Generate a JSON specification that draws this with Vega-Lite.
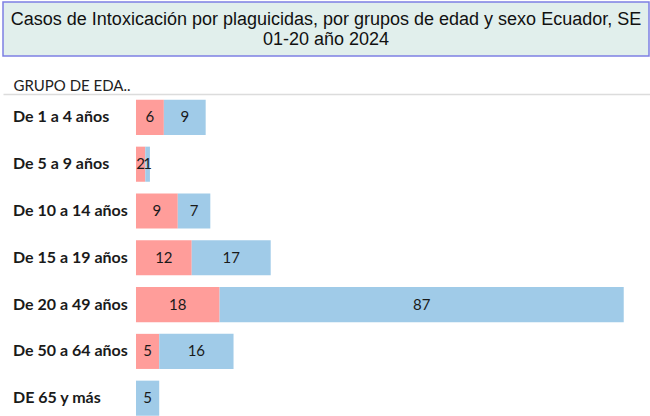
{
  "$schema": "https://vega.github.io/schema/vega-lite/v6.json",
  "background": "white",
  "padding": {"left": 2, "top": 1, "right": 0, "bottom": 0},
  "spacing": 21,
  "config": {"view": {"stroke": null}},
  "vconcat": [
    {
      "width": 646,
      "height": 54,
      "view": {"fill": "#e1efec", "stroke": "#7d80e3", "strokeWidth": 1.5},
      "data": {"values": [{"t": ["Casos de Intoxicación por plaguicidas, por grupos de edad y sexo Ecuador, SE", "01-20  año 2024"]}]},
      "mark": {"type": "text", "font": "Liberation Sans", "fontSize": 18, "lineHeight": 20, "color": "#111", "align": "center", "baseline": "middle", "dy": -9.5},
      "encoding": {"text": {"field": "t"}}
    },
    {
      "width": 648,
      "height": {"step": 46.8},
      "data": {"values": [
        {"grupo": "De 1 a 4 años", "sexo": "Mujer", "n": 6},
        {"grupo": "De 1 a 4 años", "sexo": "Hombre", "n": 9},
        {"grupo": "De 5 a 9 años", "sexo": "Mujer", "n": 2},
        {"grupo": "De 5 a 9 años", "sexo": "Hombre", "n": 1},
        {"grupo": "De 10 a 14 años", "sexo": "Mujer", "n": 9},
        {"grupo": "De 10 a 14 años", "sexo": "Hombre", "n": 7},
        {"grupo": "De 15 a 19 años", "sexo": "Mujer", "n": 12},
        {"grupo": "De 15 a 19 años", "sexo": "Hombre", "n": 17},
        {"grupo": "De 20 a 49 años", "sexo": "Mujer", "n": 18},
        {"grupo": "De 20 a 49 años", "sexo": "Hombre", "n": 87},
        {"grupo": "De 50 a 64 años", "sexo": "Mujer", "n": 5},
        {"grupo": "De 50 a 64 años", "sexo": "Hombre", "n": 16},
        {"grupo": "DE 65 y más", "sexo": "Hombre", "n": 5}
      ]},
      "encoding": {
        "y": {
          "field": "grupo",
          "type": "nominal",
          "sort": ["De 1 a 4 años", "De 5 a 9 años", "De 10 a 14 años", "De 15 a 19 años", "De 20 a 49 años", "De 50 a 64 años", "DE 65 y más"],
          "scale": {"paddingInner": 0.25, "paddingOuter": 0.125},
          "axis": null
        }
      },
      "layer": [
        {
          "mark": {"type": "bar"},
          "encoding": {
            "x": {
              "field": "n",
              "type": "quantitative",
              "stack": "zero",
              "scale": {"domain": [-28.63, 110.87], "nice": false, "zero": false},
              "axis": {
                "orient": "top",
                "domain": true,
                "domainColor": "#dcdcdc",
                "domainWidth": 1.5,
                "ticks": false,
                "labels": false,
                "grid": false,
                "title": "GRUPO DE EDA..",
                "titleX": 10,
                "titleY": -4,
                "titleAlign": "left",
                "titleBaseline": "alphabetic",
                "titleAngle": 0,
                "titleFont": "Lato",
                "titleFontWeight": "normal",
                "titleFontSize": 15,
                "titleColor": "#222"
              }
            },
            "order": {"field": "sexo", "sort": "descending"},
            "color": {
              "field": "sexo",
              "type": "nominal",
              "scale": {"domain": ["Mujer", "Hombre"], "range": ["#ff9d9a", "#a0cbe8"]},
              "legend": null
            }
          }
        },
        {
          "mark": {"type": "text", "font": "Lato", "fontSize": 15, "color": "#1a1a1a", "align": "center", "baseline": "middle"},
          "encoding": {
            "x": {"field": "n", "type": "quantitative", "stack": "zero", "bandPosition": 0.5},
            "order": {"field": "sexo", "sort": "descending"},
            "detail": {"field": "sexo"},
            "text": {"field": "n", "type": "quantitative"}
          }
        },
        {
          "transform": [{"aggregate": [{"op": "count", "as": "c"}], "groupby": ["grupo"]}],
          "mark": {"type": "text", "font": "Lato", "fontSize": 16, "fontWeight": "bold", "color": "#1a1a1a", "align": "left", "baseline": "middle"},
          "encoding": {
            "x": {"datum": -26.48, "type": "quantitative"},
            "text": {"field": "grupo", "type": "nominal"}
          }
        },
        {
          "mark": {"type": "rule", "color": "#dcdcdc", "strokeWidth": 1.5},
          "encoding": {"x": {"datum": 0, "type": "quantitative"}}
        }
      ]
    }
  ]
}
